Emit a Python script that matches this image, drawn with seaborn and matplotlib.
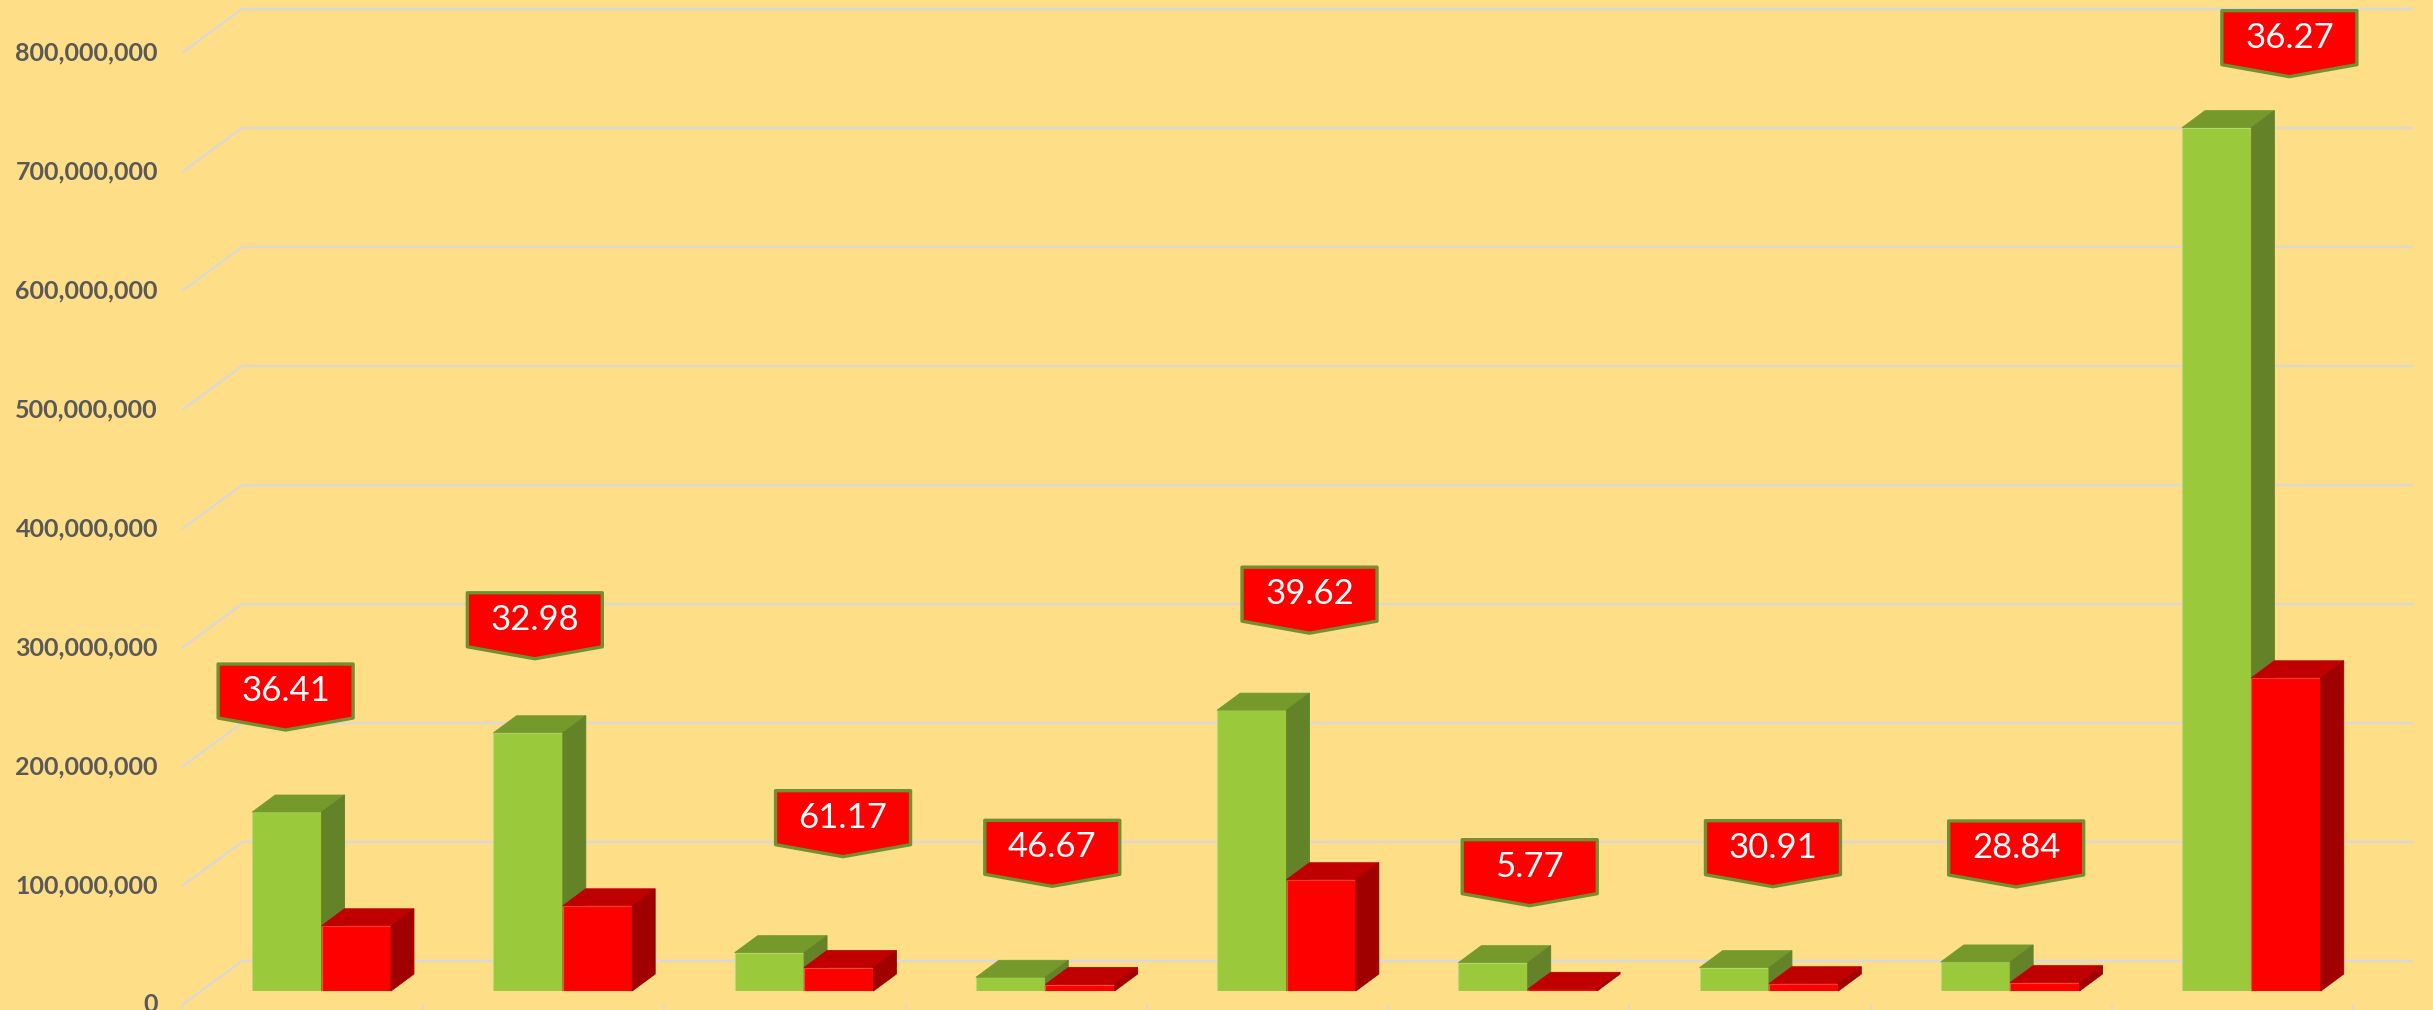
import numpy as np
import pandas as pd
import matplotlib
matplotlib.use("Agg")
import matplotlib.pyplot as plt
import seaborn as sns
from matplotlib.patches import Polygon

# data (category names are cropped out of the original)
categories = ["C1", "C2", "C3", "C4", "C5", "C6", "C7", "C8", "C9"]
series = ["Total", "Part"]
green_values = [150.4e6, 217.0e6, 32.2e6, 11.5e6, 236.0e6, 23.8e6, 19.6e6, 24.4e6, 725.5e6]
red_values = [54.8e6, 71.6e6, 19.7e6, 5.4e6, 93.5e6, 1.4e6, 6.1e6, 7.0e6, 263.2e6]
pct_labels = ["36.41", "32.98", "61.17", "46.67", "39.62", "5.77", "30.91", "28.84", "36.27"]
yticks = np.arange(0, 800e6 + 1, 100e6)

# callout nudges in pixels (x from group centre, y above the green bar top)
label_dx_px = [-36, -28, 39, 7, 23, 2, 4, 6, 38]
label_dy_px = [82, 74, 96, 91, 77, 57, 81, 75, 51]

bg = "#FEDE86"
grid_col = "#D9D9D9"
green = {"front": "#9ACA3C", "top": "#76992B", "side": "#648227", "edge": "#B9DB77"}
red = {"front": "#FF0000", "top": "#C00000", "side": "#A00000", "edge": "#FF4A3A"}

sns.set_theme(style="white")
plt.rcParams["font.family"] = ["Lato", "DejaVu Sans"]

W, H = 2433, 1010
fig = plt.figure(figsize=(W / 100, H / 100), dpi=100, facecolor=bg)
# axes = the plane of the bar front faces
ax = fig.add_axes([201 / W, 19 / H, 2171 / W, 952 / H])
ax.set_facecolor(bg)

df = pd.DataFrame({
    "category": categories * 2,
    "value": green_values + red_values,
    "series": [series[0]] * len(categories) + [series[1]] * len(categories),
})
sns.barplot(data=df, x="category", y="value", hue="series", order=categories,
            hue_order=series, palette=[green["front"], red["front"]], width=0.575,
            saturation=1, legend=False, ax=ax)
ax.set_xlim(-0.5, len(categories) - 0.5)
ax.set_ylim(0, 800e6)
ax.axis("off")

xpx = 2171 / len(categories)
ypx = 952 / 800e6


def off(px, py):
    return px / xpx, py / ypx


bx, by = off(41, 30)     # back wall
fx, fy = off(-19, -14)   # front edge
dx, dy = off(23, 17)     # bar depth
x_left, x_right = -0.5, len(categories) - 0.5

# walls / gridlines
for v in yticks:
    ax.plot([x_left + bx, x_right + bx], [v + by, v + by], color=grid_col, lw=1.6,
            zorder=1, clip_on=False, solid_capstyle="butt")
    ax.plot([x_left + fx, x_left + bx], [v + fy, v + by], color=grid_col, lw=1.6,
            zorder=1, clip_on=False, solid_capstyle="butt")
    ax.text(x_left + fx - 24 / xpx, v + fy, f"{int(v):,}", ha="right", va="center",
            fontsize=18, fontweight="bold", color="#595959", clip_on=False)

for k in range(len(categories) + 1):
    x = k - 0.5 + fx
    ax.plot([x, x], [fy, fy - 6 / ypx], color=grid_col, lw=1.2, clip_on=False, zorder=1)

# 3d faces on top of seaborn's bars
for p in ax.patches:
    x0, w, y0, h = p.get_x(), p.get_width(), p.get_y(), p.get_height()
    centre = x0 + w / 2
    is_green = centre < round(centre)
    c = green if is_green else red
    z = 3 if is_green else 4
    p.set_edgecolor(c["edge"])
    p.set_linewidth(0.8)
    p.set_zorder(z)
    x1, y1 = x0 + w, y0 + h
    top = [(x0, y1), (x1, y1), (x1 + dx, y1 + dy), (x0 + dx, y1 + dy)]
    side = [(x1, y0), (x1 + dx, y0 + dy), (x1 + dx, y1 + dy), (x1, y1)]
    ax.add_patch(Polygon(top, closed=True, facecolor=c["top"], edgecolor=c["top"],
                         lw=0.6, zorder=z, clip_on=False))
    ax.add_patch(Polygon(side, closed=True, facecolor=c["side"], edgecolor=c["side"],
                         lw=0.6, zorder=z, clip_on=False))

# callouts
cw, ch, tip = 135, 54, 12
for i, lab in enumerate(pct_labels):
    px = i + label_dx_px[i] / xpx
    py = green_values[i] + label_dy_px[i] / ypx
    pts_px = [(0, 0), (cw / 2, tip), (cw / 2, tip + ch), (-cw / 2, tip + ch), (-cw / 2, tip)]
    pts = [(px + a / xpx, py + b / ypx) for a, b in pts_px]
    ax.add_patch(Polygon(pts, closed=True, facecolor="#FF0000", edgecolor="#6F9130",
                         lw=2.4, joinstyle="round", zorder=6, clip_on=False))
    ax.text(px, py + (tip + ch / 2) / ypx, lab, ha="center", va="center",
            fontsize=25, color="white", zorder=7, clip_on=False)

fig.savefig("out.png", dpi=100, facecolor=bg)
plt.close()
